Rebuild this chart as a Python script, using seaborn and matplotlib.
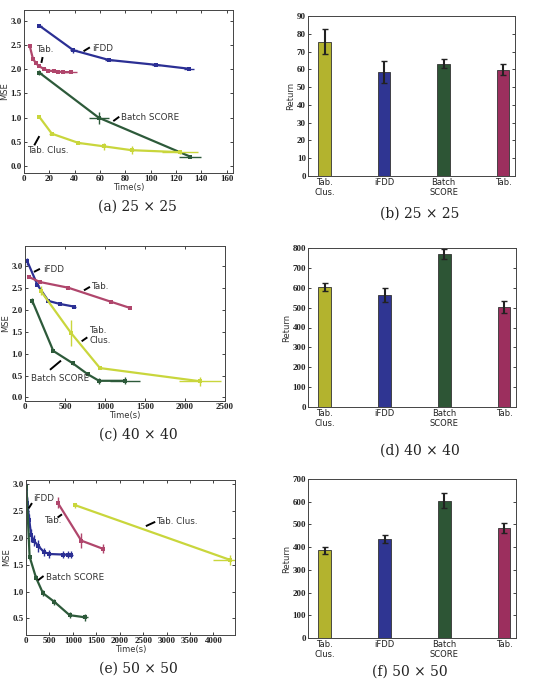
import numpy as np
import pandas as pd
import matplotlib
matplotlib.use("Agg")
import matplotlib.pyplot as plt
from matplotlib.font_manager import FontProperties
import seaborn as sns

sns.set_style("ticks")
plt.rcParams['font.family'] = ['DejaVu Sans']

# ---------------- data ----------------
# (a) 25x25 MSE vs time
a_ifdd_t = [12, 39, 67, 104, 130]
a_ifdd_mse = [2.90, 2.39, 2.19, 2.09, 2.01]
a_ifdd_xerr = [2, 3, 3, 3, 4]
a_ifdd_yerr = [0.03, 0.05, 0.02, 0.02, 0.02]

a_tab_t = [4.5, 7, 9.5, 12, 16, 19, 24, 27, 31, 37]
a_tab_mse = [2.48, 2.22, 2.12, 2.06, 2.00, 1.97, 1.96, 1.95, 1.94, 1.94]
a_tab_xerr = [0.5, 0.5, 0.5, 1, 1, 1, 1, 1, 1, 5]
a_tab_yerr = [0.03, 0.02, 0.02, 0.02, 0.02, 0.02, 0.02, 0.02, 0.02, 0.02]

a_batch_t = [12, 59, 131]
a_batch_mse = [1.93, 1.00, 0.20]
a_batch_xerr = [2, 8, 9]
a_batch_yerr = [0.05, 0.12, 0.04]

a_clus_t = [12, 22, 43, 63, 85, 123]
a_clus_mse = [1.02, 0.67, 0.48, 0.41, 0.33, 0.29]
a_clus_xerr = [1, 2, 2, 2, 2, 14]
a_clus_yerr = [0.02, 0.03, 0.03, 0.07, 0.08, 0.03]

# (c) 40x40
c_ifdd_t = [29, 154, 291, 437, 612]
c_ifdd_mse = [3.10, 2.57, 2.20, 2.13, 2.07]
c_ifdd_xerr = [10, 15, 20, 20, 25]
c_ifdd_yerr = [0.08, 0.04, 0.03, 0.02, 0.02]

c_tab_t = [54, 187, 541, 1075, 1312]
c_tab_mse = [2.74, 2.63, 2.50, 2.18, 2.04]
c_tab_xerr = [5, 5, 10, 10, 10]
c_tab_yerr = [0.02, 0.02, 0.02, 0.02, 0.02]

c_clus_t = [196, 575, 937, 2187]
c_clus_mse = [2.43, 1.47, 0.67, 0.37]
c_clus_xerr = [10, 10, 20, 260]
c_clus_yerr = [0.10, 0.30, 0.03, 0.10]

c_batch_t = [91, 354, 596, 784, 925, 1250]
c_batch_mse = [2.20, 1.06, 0.78, 0.53, 0.38, 0.38]
c_batch_xerr = [5, 10, 15, 20, 20, 190]
c_batch_yerr = [0.07, 0.03, 0.03, 0.03, 0.07, 0.08]

# (e) 50x50
e_ifdd_t = [8, 30, 70, 110, 170, 260, 380, 500, 800, 900, 950]
e_ifdd_mse = [2.92, 2.65, 2.33, 2.05, 1.95, 1.85, 1.74, 1.70, 1.69, 1.69, 1.69]
e_ifdd_xerr = [5, 10, 15, 20, 30, 40, 30, 40, 40, 40, 60]
e_ifdd_yerr = [0.10, 0.12, 0.12, 0.12, 0.10, 0.12, 0.08, 0.08, 0.07, 0.07, 0.07]

e_tab_t = [674, 1179, 1634]
e_tab_mse = [2.66, 1.95, 1.80]
e_tab_xerr = [20, 20, 20]
e_tab_yerr = [0.10, 0.14, 0.08]

e_clus_t = [1051, 4356]
e_clus_mse = [2.61, 1.59]
e_clus_xerr = [40, 360]
e_clus_yerr = [0.05, 0.10]

e_batch_t = [10, 77, 213, 362, 603, 930, 1260]
e_batch_mse = [2.95, 1.65, 1.26, 0.97, 0.81, 0.56, 0.52]
e_batch_xerr = [5, 10, 15, 20, 30, 40, 60]
e_batch_yerr = [0.05, 0.04, 0.05, 0.06, 0.06, 0.05, 0.06]

# bar charts
bar_cats = ["Tab.\nClus.", "iFDD", "Batch\nSCORE", "Tab."]
b_return = [75.5, 58.5, 63.2, 59.8]
b_err = [7.0, 6.0, 2.5, 3.0]
d_return = [605, 565, 770, 505]
d_err = [20, 35, 25, 30]
f_return = [387, 437, 605, 485]
f_err = [15, 17, 32, 22]

captions = ["(a) 25 × 25", "(b) 25 × 25", "(c) 40 × 40",
            "(d) 40 × 40", "(e) 50 × 50", "(f) 50 × 50"]

# ---------------- style ----------------
C_CLUS_LINE = "#c9d63c"
C_IFDD = "#2b2f94"
C_BATCH = "#2d5a3a"
C_TAB = "#b0466c"
BAR_COLS = ["#b3b32e", "#2f3592", "#2d5535", "#9c2f5e"]

W, H = 536, 690
fig = plt.figure(figsize=(W / 100, H / 100), dpi=100)

TICK_FP = FontProperties(family="Liberation Serif", weight="bold", size=6.5)


def add_ax(l, r, t, b):
    return fig.add_axes([l / W, 1 - b / H, (r - l) / W, (b - t) / H])


def style_ax(ax):
    ax.tick_params(direction="in", top=True, right=True, length=2.5,
                   width=0.6, pad=1.5, colors="#222222")
    for sp in ax.spines.values():
        sp.set_linewidth(0.7)
        sp.set_color("#444444")


def line_series(ax, t, m, xe, ye, color, lw=1.6):
    df = pd.DataFrame({"t": t, "m": m})
    sns.lineplot(data=df, x="t", y="m", ax=ax, color=color, lw=lw,
                 marker="s", markersize=2.6, markeredgewidth=0,
                 sort=False, estimator=None)
    ax.errorbar(t, m, xerr=xe, yerr=ye, fmt="none", ecolor=color,
                elinewidth=1.0, capsize=0)


def note(ax, text, xy_from, xy_to, xytext, ha="left"):
    ax.plot([xy_from[0], xy_to[0]], [xy_from[1], xy_to[1]], color="black",
            lw=1.4, solid_capstyle="butt")
    ax.text(xytext[0], xytext[1], text, fontsize=6.3, color="#333333",
            ha=ha, va="center", family="DejaVu Sans")


def line_panel(ax, xlim, ylim, xticks, yticks):
    ax.set_xlim(*xlim)
    ax.set_ylim(*ylim)
    ax.set_xticks(xticks)
    ax.set_yticks(yticks)
    ax.set_yticklabels([f"{v:.1f}" for v in yticks], fontproperties=TICK_FP)
    ax.set_xticklabels([str(v) for v in xticks], fontproperties=TICK_FP)
    ax.set_xlabel("Time(s)", fontsize=6, labelpad=0, color="#333333")
    ax.set_ylabel("MSE", fontsize=6, labelpad=1, color="#333333")
    style_ax(ax)


def bar_panel(ax, vals, errs, ylim, yticks):
    df = pd.DataFrame({"cat": bar_cats, "val": vals})
    sns.barplot(data=df, x="cat", y="val", hue="cat", palette=BAR_COLS,
                width=0.21, ax=ax, legend=False, edgecolor="#333333",
                linewidth=0.6, saturation=1)
    ax.errorbar(range(len(vals)), vals, yerr=errs, fmt="none",
                ecolor="#222222", elinewidth=1.5, capsize=2.5, capthick=1.0)
    ax.set_xlim(-0.28, 3.2)
    ax.set_ylim(*ylim)
    ax.set_yticks(yticks)
    ax.set_yticklabels([str(v) for v in yticks], fontproperties=TICK_FP)
    ax.set_xticks(range(len(bar_cats)))
    ax.set_xticklabels(bar_cats, fontsize=6, color="#333333")
    ax.set_xlabel("")
    ax.set_ylabel("Return", fontsize=6, labelpad=1, color="#333333")
    style_ax(ax)
    ax.tick_params(axis="x", length=0)


# (a)
ax = add_ax(24, 233, 10, 173)
line_series(ax, a_ifdd_t, a_ifdd_mse, a_ifdd_xerr, a_ifdd_yerr, C_IFDD)
line_series(ax, a_tab_t, a_tab_mse, a_tab_xerr, a_tab_yerr, C_TAB)
line_series(ax, a_batch_t, a_batch_mse, a_batch_xerr, a_batch_yerr, C_BATCH)
line_series(ax, a_clus_t, a_clus_mse, a_clus_xerr, a_clus_yerr, C_CLUS_LINE)
line_panel(ax, (0, 165), (-0.14, 3.22), list(range(0, 161, 20)),
           [0.0, 0.5, 1.0, 1.5, 2.0, 2.5, 3.0])
note(ax, "iFDD", (47, 2.37), (52, 2.45), (54, 2.43))
note(ax, "Tab.", (13.7, 2.13), (14.7, 2.25), (9.5, 2.40))
note(ax, "Batch SCORE", (70.5, 0.93), (75.2, 1.02), (76.5, 1.00))
note(ax, "Tab. Clus.", (8.1, 0.43), (12.1, 0.62), (2.1, 0.32))

# (b)
ax = add_ax(308, 515, 16, 176)
bar_panel(ax, b_return, b_err, (0, 90), list(range(0, 91, 10)))

# (c)
ax = add_ax(25, 225, 246, 401)
line_series(ax, c_ifdd_t, c_ifdd_mse, c_ifdd_xerr, c_ifdd_yerr, C_IFDD)
line_series(ax, c_tab_t, c_tab_mse, c_tab_xerr, c_tab_yerr, C_TAB)
line_series(ax, c_clus_t, c_clus_mse, c_clus_xerr, c_clus_yerr, C_CLUS_LINE)
line_series(ax, c_batch_t, c_batch_mse, c_batch_xerr, c_batch_yerr, C_BATCH)
line_panel(ax, (0, 2500), (-0.08, 3.45), list(range(0, 2501, 500)),
           [0.0, 0.5, 1.0, 1.5, 2.0, 2.5, 3.0])
note(ax, "iFDD", (112, 2.86), (187, 2.93), (221, 2.92))
note(ax, "Tab.", (737, 2.44), (812, 2.52), (830, 2.53))
note(ax, "Tab.\nClus.", (708, 1.28), (779, 1.37), (800, 1.41))
note(ax, "Batch SCORE", (312, 0.63), (450, 0.84), (71, 0.44))

# (d)
ax = add_ax(308, 516, 248, 407)
bar_panel(ax, d_return, d_err, (0, 800), list(range(0, 801, 100)))

# (e)
ax = add_ax(26, 235, 480, 635)
line_series(ax, e_ifdd_t, e_ifdd_mse, e_ifdd_xerr, e_ifdd_yerr, C_IFDD)
line_series(ax, e_tab_t, e_tab_mse, e_tab_xerr, e_tab_yerr, C_TAB)
line_series(ax, e_clus_t, e_clus_mse, e_clus_xerr, e_clus_yerr, C_CLUS_LINE)
line_series(ax, e_batch_t, e_batch_mse, e_batch_xerr, e_batch_yerr, C_BATCH)
line_panel(ax, (0, 4460), (0.19, 3.08), list(range(0, 4001, 500)),
           [0.5, 1.0, 1.5, 2.0, 2.5, 3.0])
note(ax, "iFDD", (56, 2.55), (128, 2.65), (149, 2.74))
note(ax, "Tab.", (674, 2.38), (768, 2.44), (390, 2.33))
note(ax, "Tab. Clus.", (2558, 2.22), (2757, 2.30), (2778, 2.30))
note(ax, "Batch SCORE", (256, 1.21), (375, 1.29), (433, 1.27))

# (f)
ax = add_ax(308, 516, 479, 638)
bar_panel(ax, f_return, f_err, (0, 700), list(range(0, 701, 100)))

# captions
cap_pos = [(137, 207), (420, 214), (138, 435), (420, 451), (138, 669), (410, 672)]
for txt, (cx, cy) in zip(captions, cap_pos):
    fig.text(cx / W, 1 - cy / H, txt, ha="center", va="center",
             fontsize=10, family="DejaVu Serif", color="#222222")

fig.savefig("out.png", dpi=100)
